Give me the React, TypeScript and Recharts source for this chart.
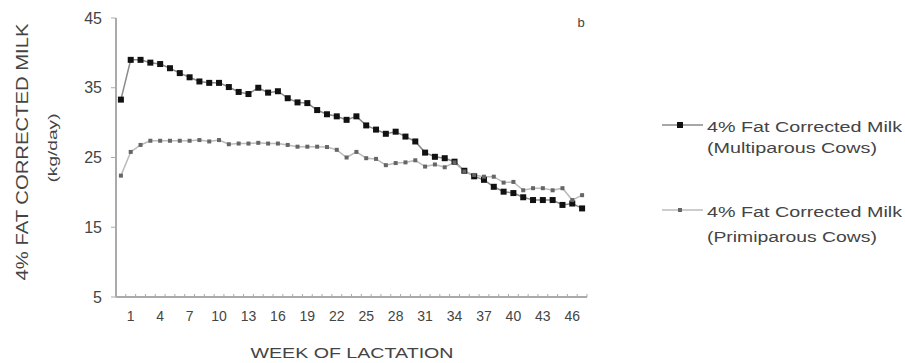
import React from 'react';
import { LineChart, Line, XAxis, YAxis, Legend } from 'recharts';

// weeks of lactation (one point per week)
const weeks = [
  0, 1, 2, 3, 4, 5, 6, 7, 8, 9, 10, 11, 12, 13, 14, 15, 16, 17, 18, 19, 20, 21, 22, 23,
  24, 25, 26, 27, 28, 29, 30, 31, 32, 33, 34, 35, 36, 37, 38, 39, 40, 41, 42, 43, 44, 45, 46, 47,
];

// 4% FCM, kg/day
const multiparous = [
  33.3, 39.0, 39.0, 38.6, 38.4, 37.8, 37.1, 36.5, 35.9, 35.7,
  35.7, 35.1, 34.4, 34.1, 35.0, 34.3, 34.5, 33.5, 32.9, 32.8,
  31.8, 31.2, 30.9, 30.4, 30.9, 29.6, 29.0, 28.4, 28.7, 28.0,
  27.3, 25.7, 25.1, 24.9, 24.4, 23.1, 22.3, 21.8, 20.8, 20.1,
  19.9, 19.3, 18.9, 18.9, 18.9, 18.2, 18.4, 17.7,
];
const primiparous = [
  22.4, 25.8, 26.8, 27.4, 27.4, 27.4, 27.4, 27.4, 27.5, 27.3,
  27.5, 26.9, 27.0, 27.0, 27.1, 27.0, 27.0, 26.8, 26.55, 26.55,
  26.55, 26.5, 26.1, 25.0, 25.8, 24.9, 24.8, 23.9, 24.2, 24.3,
  24.6, 23.7, 24.0, 23.6, 24.3, 23.0, 22.5, 22.25, 22.25, 21.4,
  21.5, 20.3, 20.6, 20.6, 20.3, 20.6, 18.9, 19.6,
];

const xTickLabels = [1, 4, 7, 10, 13, 16, 19, 22, 25, 28, 31, 34, 37, 40, 43, 46];
const yTicks = [5, 15, 25, 35, 45];

const data = weeks.map((w, i) => ({ week: w, multi: multiparous[i], primi: primiparous[i] }));

// small tick marks sit between the weeks, like the old Excel category axis
const minorTicks = [...weeks.map((w) => w - 0.5), weeks[weeks.length - 1] + 0.5];

const FONT = '"Liberation Sans", Arial, sans-serif';
const TEXT = '#444';
const AXIS = '#aaa';

const XTick = (props: any) => {
  const { x, y, payload } = props;
  const v = payload.value;
  if (Number.isInteger(v)) {
    return (
      <text x={x} y={y + 24} textAnchor="middle" fontSize={14} fontFamily={FONT} fill={TEXT}>
        {v}
      </text>
    );
  }
  return <line x1={x} x2={x} y1={y - 3} y2={y} stroke={AXIS} strokeWidth={1} />;
};

const squareDot = (size: number, fill: string) => (p: any) => (
  <rect key={`d-${p.index}`} x={p.cx - size / 2} y={p.cy - size / 2} width={size} height={size} fill={fill} />
);

const YTitle = () => (
  <g fontFamily={FONT} fill={TEXT}>
    <text x={0} y={0} transform="translate(28,152) rotate(-90)" textAnchor="middle" fontSize={17}
      textLength={257} lengthAdjust="spacingAndGlyphs">
      4% FAT CORRECTED MILK
    </text>
    <text x={0} y={0} transform="translate(57,148) rotate(-90)" textAnchor="middle" fontSize={13}
      textLength={69} lengthAdjust="spacingAndGlyphs">
      (kg/day)
    </text>
  </g>
);

const XTitle = () => (
  <g fontFamily={FONT} fill={TEXT}>
    <text x={352} y={358} textAnchor="middle" fontSize={15} textLength={203} lengthAdjust="spacingAndGlyphs">
      WEEK OF LACTATION
    </text>
    <text x={581} y={27} textAnchor="middle" fontSize={13}>b</text>
  </g>
);

const LegendBox = () => (
  <svg width={255} height={160} style={{ display: 'block' }}>
    <g fontFamily={FONT} fill={TEXT} fontSize={14}>
      <line x1={12} x2={53} y1={25} y2={25} stroke="#8a8a8a" strokeWidth={1.5} />
      <rect x={27} y={22} width={6} height={6} fill="#111" />
      <text x={57} y={32} textLength={195} lengthAdjust="spacingAndGlyphs">4% Fat Corrected Milk</text>
      <text x={57} y={53} textLength={170} lengthAdjust="spacingAndGlyphs">(Multiparous Cows)</text>

      <line x1={12} x2={53} y1={110} y2={110} stroke="#bbb" strokeWidth={1.5} />
      <rect x={28} y={108} width={4} height={4} fill="#666" />
      <text x={57} y={117} textLength={195} lengthAdjust="spacingAndGlyphs">4% Fat Corrected Milk</text>
      <text x={57} y={142} textLength={170} lengthAdjust="spacingAndGlyphs">(Primiparous Cows)</text>
    </g>
  </svg>
);

export default function App() {
  return (
    <div style={{ position: 'absolute', left: 0, top: 0, width: 905, height: 363, background: '#fff' }}>
      <LineChart width={905} height={363} data={data} margin={{ top: 18, right: 318, bottom: 36, left: 56 }}>
        <XAxis
          dataKey="week"
          type="number"
          domain={[-0.5, 47.5]}
          ticks={[...minorTicks, ...xTickLabels]}
          interval={0}
          height={30}
          tickSize={0}
          tickMargin={0}
          tickLine={false}
          tick={<XTick />}
          axisLine={{ stroke: AXIS, strokeWidth: 2 }}
          label={{ content: () => <XTitle /> }}
        />
        <YAxis
          type="number"
          domain={[5, 45]}
          ticks={yTicks}
          interval={0}
          width={60}
          tickSize={5}
          tickMargin={9}
          tick={{ fontSize: 16, fontFamily: FONT, fill: TEXT }}
          tickLine={{ stroke: AXIS }}
          axisLine={{ stroke: AXIS, strokeWidth: 2 }}
          label={{ content: () => <YTitle /> }}
        />
        <Line
          dataKey="multi"
          stroke="#8a8a8a"
          strokeWidth={1.5}
          dot={squareDot(6, '#111')}
          activeDot={false}
          isAnimationActive={false}
        />
        <Line
          dataKey="primi"
          stroke="#bbb"
          strokeWidth={1.5}
          dot={squareDot(4, '#666')}
          activeDot={false}
          isAnimationActive={false}
        />
        <Legend
          layout="vertical"
          align="center"
          verticalAlign="middle"
          content={() => <LegendBox />}
          wrapperStyle={{ position: 'absolute', left: 650, top: 100, width: 255, height: 160 }}
        />
      </LineChart>
    </div>
  );
}
